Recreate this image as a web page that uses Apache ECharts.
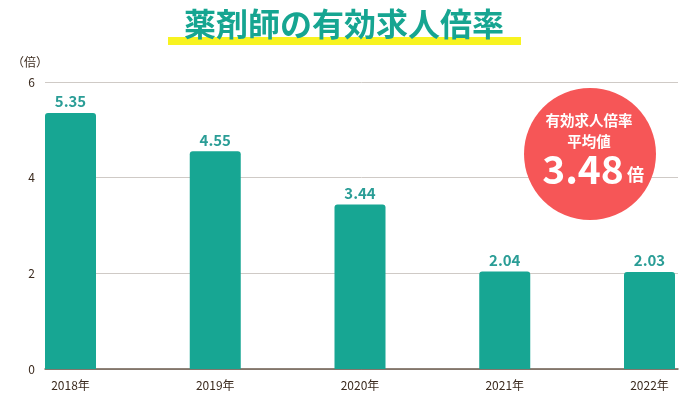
<!DOCTYPE html>
<html><head><meta charset="utf-8">
<script src="https://cdn.jsdelivr.net/npm/echarts@6/dist/echarts.min.js"></script>
<style>html,body{margin:0;padding:0;background:#fff}#c{width:700px;height:400px}</style>
</head><body><div id="c"></div>
<script>
const categories = ['2018年','2019年','2020年','2021年','2022年'];
const values = [5.35, 4.55, 3.44, 2.04, 2.03];
const yTicks = [0, 2, 4, 6];
const averageValue = '3.48';

const font = '"Noto Sans CJK JP", "Noto Sans", sans-serif';
const chart = echarts.init(document.getElementById('c'));
const idx = categories.map((_, i) => i);
chart.setOption({
  animation: false,
  grid: { left: 45, right: 22, top: 82, bottom: 31 },
  graphic: [
    { type: 'rect', z: -1, shape: { x: 168, y: 37, width: 353, height: 8 }, style: { fill: '#f8f320' } },
    { type: 'text', z: 5, style: { x: 344, y: 24, text: '薬剤師の有効求人倍率', fill: '#16a591', font: 'bold 32px ' + font, textAlign: 'center', textVerticalAlign: 'middle' } },
    { type: 'text', z: 5, style: { x: 30, y: 62, text: '（倍）', fill: '#3b2a1e', font: '12px ' + font, textAlign: 'center', textVerticalAlign: 'middle' } },
    { type: 'circle', z: 100, shape: { cx: 590, cy: 154, r: 66 }, style: { fill: '#f65657' } },
    { type: 'text', z: 101, style: { x: 589, y: 120, text: '有効求人倍率', fill: '#fff', font: 'bold 14.5px ' + font, textAlign: 'center', textVerticalAlign: 'middle' } },
    { type: 'text', z: 101, style: { x: 589, y: 141, text: '平均値', fill: '#fff', font: 'bold 14.5px ' + font, textAlign: 'center', textVerticalAlign: 'middle' } },
    { type: 'text', z: 101, style: { x: 583, y: 169, text: averageValue, fill: '#fff', font: 'bold 39px ' + font, textAlign: 'center', textVerticalAlign: 'middle' } },
    { type: 'text', z: 101, style: { x: 627, y: 175, text: '倍', fill: '#fff', font: 'bold 17px ' + font, textAlign: 'left', textVerticalAlign: 'middle' } }
  ],
  xAxis: {
    type: 'value', min: -25.5 / 144.75, max: (678 - 70.5) / 144.75,
    splitLine: { show: false },
    axisLine: { show: true, onZero: false, lineStyle: { color: '#6b5b4e', width: 1.5 } },
    axisTick: { show: false },
    axisLabel: {
      customValues: idx, color: '#3b2a1e', fontSize: 12, fontFamily: font, margin: 10,
      formatter: v => categories[Math.round(v)] || ''
    }
  },
  yAxis: {
    type: 'value', min: 0, max: 6, interval: 2,
    axisLine: { show: false }, axisTick: { show: false },
    axisLabel: { color: '#3b2a1e', fontSize: 12, fontFamily: font, margin: 10,
      customValues: yTicks },
    splitLine: { lineStyle: { color: '#cfcac6', width: 1 } }
  },
  series: [{
    type: 'bar', barWidth: 51,
    data: values.map((v, i) => [i, v]),
    itemStyle: { color: '#17a693', borderRadius: [3, 3, 0, 0] },
    label: { show: true, position: 'top', distance: 4, color: '#2a9d96', fontSize: 15, fontWeight: 'bold', fontFamily: font,
      formatter: p => p.value[1].toFixed(2) }
  }]
});
</script></body></html>
